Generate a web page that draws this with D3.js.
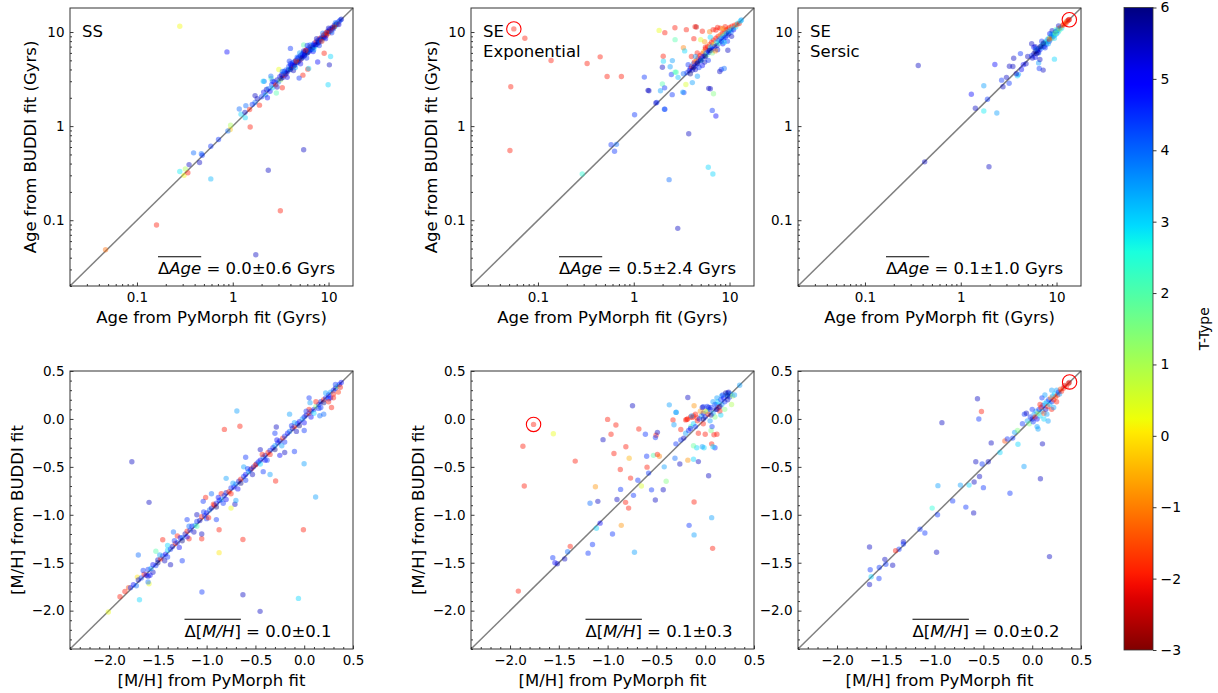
<!DOCTYPE html>
<html>
<head>
<meta charset="utf-8">
<script src="https://cdn.jsdelivr.net/npm/d3@7"></script>
<style>
body { margin: 0; background: #fff; }
text { font-family: "DejaVu Sans", sans-serif; fill: #000; }
</style>
</head>
<body>
<svg id="chart" width="1218" height="693"></svg>
<script>

// ---- data: [PyMorph value, BUDDI value, T-Type] ----
var ssAge = [
    [0.28,11.5,0.2],[0.87,6.15,5],[1.52,0.98,-2],[5.5,0.56,5.5],[2.35,0.34,5.5],[3.14,0.126,-2],[1.74,0.043,5.5],
    [0.16,0.089,-2],[0.047,0.0486,-1.2],[0.59,0.275,3.3],[0.28,0.33,2.8],[0.31,0.30,0.2],[0.34,0.32,-2],[0.35,0.39,5.5],
    [0.32,0.35,1],[0.39,0.52,4],[0.45,0.41,5.5],[0.47,0.51,4],[0.48,0.49,4.5],[0.59,0.61,4.5],[0.71,0.72,4.5],
    [0.94,0.92,-0.3],[0.95,1.02,1],[0.89,0.89,4],[1.17,1.52,4],[1.22,1.34,3],[1.37,1.65,4],[1.35,1.23,3],[1.5,1.5,-2],
    [1.71,1.78,4],[1.9,1.67,-2],[1.8,1.96,5.5],[1.34,1.4,5.5],[1.6,1.7,4.5],[4.0,6.7,4.5],[9.0,5.95,-2],[10.5,5.5,3],
    [10.2,4.48,5.5],[7.7,4.8,5],[9.9,2.75,3],[6.07,4.03,-2],[5.4,3.48,-2],[4.93,3.24,4.5],[6.2,4.1,3],[2.13,2.99,4],
    [2.52,3.21,2],[3.03,4.0,0.3],[2.85,2.25,2],[3.29,2.56,-2],[5.5,7.3,2],[1.71,2.11,5.5],[2.5,3.4,4],[2.08,3.0,3],[3.27,3.45,-2],
    [2.0,2.05,4.5],[2.1,2.3,5],[2.2,2.15,3.5],[2.25,2.45,5.5],[2.35,2.5,4],[2.45,2.35,5],[2.55,2.75,4.5],[2.6,2.55,3],
    [2.7,2.95,5],[2.8,2.75,-2],[2.9,3.1,5.5],[3.0,2.95,4],[3.1,3.35,5],[3.15,3.1,1.2],[3.25,3.55,4.5],[3.35,3.3,5.5],
    [3.45,3.8,5],[3.5,3.5,-2],[3.6,3.95,4],[3.7,3.75,5],[3.8,3.95,5.5],[3.85,4.3,4.5],[3.95,4.05,3],[4.05,4.45,5],
    [4.1,4.2,5.5],[4.2,4.7,5],[4.3,4.35,-2],[4.4,4.85,4],[4.45,4.5,5],[4.55,5.0,5.5],[4.65,4.75,4.5],[4.75,5.25,5],
    [4.8,4.85,3],[4.9,5.4,5],[5.0,5.0,-2],[5.1,5.6,5.5],[5.2,5.3,4],[5.3,5.85,5],[5.4,5.45,5.5],[5.5,6.05,4.5],
    [5.6,5.6,5],[5.75,6.3,-2],[5.85,5.9,3.5],[5.95,6.5,5],[6.1,6.1,5.5],[6.2,6.75,4.5],[6.35,6.3,5],[6.5,7.0,-2],
    [6.6,6.55,5],[6.75,7.25,4],[6.9,6.8,5.5],[7.1,7.6,5],[7.2,7.0,3],[7.4,7.85,-2],[7.55,7.4,5],[7.75,8.2,4.5],
    [7.9,7.7,5.5],[8.1,8.55,-2],[8.3,8.0,3.5],[8.5,8.8,5],[8.7,8.5,2],[8.9,9.3,-2],[9.1,8.8,5],[9.3,9.7,4],[9.5,9.2,-2],
    [9.8,10.2,5.5],[10.0,9.7,-1.5],[10.3,10.7,5],[10.6,10.2,3],[10.9,11.2,5],[11.2,10.8,4.5],[11.5,11.8,5.5],[11.8,11.5,3],
    [12.2,12.4,5],[12.5,12.3,2.5],[12.9,13.0,5],[13.3,13.4,4],[13.6,13.7,5.5],[3.2,3.2,5.8],[3.6,3.6,5.8],[4.0,4.0,5.8],
    [4.4,4.4,5.8],[4.8,4.8,5.8],[5.2,5.2,5.8],[5.6,5.7,5.8],[6.0,6.0,5.8],[6.4,6.5,5.8],[6.8,6.9,5.8],[7.3,7.3,5.8],
    [7.8,7.8,5.8],[8.3,8.4,5.8],[8.8,8.8,5.8],[9.4,9.4,5.8],[10.1,10.1,5.8],[11,11,5.8],[12,12,5.8],[4.2,4.5,4.8],
    [5.4,5.8,4.8],[3.4,3.6,4.2],[6.2,6.4,3.8],[7.0,7.3,4.8],[8.0,8.1,4.4],[9.0,9.3,-2],[10.5,10.4,-2],[5.8,6.4,-2],
    [4.6,4.9,-2],[11.5,11.4,-2.5],[12.5,12.1,-1],
    [2.3,2.0,5],[2.6,3.0,4.5],[2.9,2.6,5.5],[3.3,3.8,4],[3.7,3.3,5],[4.0,4.6,4.5],[4.3,3.9,5.5],[4.7,5.4,4],
    [5.1,4.6,5],[5.5,6.3,5.5],[5.9,5.3,4.5],[6.4,7.3,4],[6.9,6.2,5],[7.5,8.5,5.5],[8.0,7.2,4.5],[8.7,9.7,4],
    [9.3,8.5,5],[10.0,11.0,5.5],[10.8,9.8,4.5],[11.8,12.6,4],[12.8,12.0,5],[3.9,4.9,4.5],[5.0,6.0,3.5],[6.0,7.2,4.5],
    [4.5,4.2,3.5],[7.0,6.5,3.5],[8.5,8.0,-2],[9.5,9.9,-2]
];
var seExpAge = [
    [0.056,10.8,-2],[0.073,8.6,-2],[0.137,4.98,-2],[0.326,4.63,-2],[0.446,5.45,-2],[0.527,3.37,-2],[0.743,3.37,-2],
    [0.052,2.62,-2],[0.051,0.55,-2],[0.29,0.31,2.5],[1.02,1.32,4.5],[0.58,0.635,4.5],[0.63,0.54,4.5],[0.66,0.64,4],
    [1.29,3.32,4.5],[1.41,2.4,5.5],[1.74,1.79,4.5],[2.09,1.51,4],[3.75,0.83,5.5],[6.3,2.5,5.5],[6.6,1.47,4.5],
    [7.2,1.28,5],[6.0,0.366,3],[6.7,0.31,3],[2.34,0.27,4],[2.88,0.082,5.5],[1.84,10.4,0.3],[2.11,9.85,-2],
    [2.69,11.1,-2],[3.54,10.6,-2],[4.37,11.4,-2],[4.5,11.3,-2.5],[5.2,10.2,-2],[6.2,10.07,-1],[6.75,10.6,-2],
    [2.7,8.3,2],[4.24,8.5,-2],[3.3,6.8,-1],[3.4,6.3,3],[2.03,5.53,-2],[2.04,4.9,3],[2.53,4.97,3.5],[1.99,4.23,5.5],
    [2.4,4.27,3.5],[2.47,3.54,4.5],[2.77,3.74,2],[1.44,2.38,5.5],[1.9,2.38,3.5],[1.99,2.8,2],[2.1,2.55,4.5],
    [2.52,2.16,4.5],[3.34,2.27,4.5],[4.09,2.9,3.5],[4.62,3.39,3.5],[2.11,1.51,4.5],[6.06,2.52,5.5],[6.8,2.21,1.5],
    [8.2,4.0,4.5],[8.8,4.1,4],[7.9,3.8,5.5],[9.6,6.4,5.5],[1.7,1.76,5.5],[2.9,3.3,3.2],[3.3,3.6,4],[3.5,2.77,0.5],
    [3.25,2.3,3.5],[2.7,3.75,2.2],
    [3.6,3.7,4.5],[3.8,3.9,5.5],[3.9,4.1,5],[4.0,4.3,-2],[4.1,3.95,5.5],[4.2,4.6,4],[4.3,4.8,-2],[4.35,4.35,5],
    [4.5,5.0,-1],[4.6,4.6,5.5],[4.7,5.3,-2],[4.8,4.9,4.5],[4.9,5.6,-2],[5.0,5.2,5],[5.1,5.0,3],[5.2,5.9,-2],
    [5.3,5.5,4.5],[5.4,6.2,-0.5],[5.5,5.6,5.5],[5.6,6.6,-2],[5.7,6.0,4],[5.8,5.7,2],[5.9,7.0,-2],[6.0,6.3,4.5],
    [6.1,6.1,5],[6.2,7.4,-1.5],[6.3,6.8,3],[6.4,6.4,5.5],[6.5,7.8,-2],[6.6,7.1,4],[6.7,6.6,5],[6.8,8.2,-2],
    [6.9,7.4,0],[7.0,7.0,4.5],[7.2,8.6,-2],[7.3,7.8,3],[7.4,7.2,5.5],[7.6,9.0,-2],[7.7,8.2,4],[7.8,7.6,2.5],
    [8.0,9.3,-1],[8.1,8.6,3.5],[8.2,8.0,5],[8.4,9.7,-2],[8.5,9.0,3],[8.6,8.5,4.5],[8.8,10.1,-2],[8.9,9.4,2],
    [9.0,8.8,5],[9.2,10.5,-2],[9.3,9.8,3],[9.4,9.2,4.5],[9.6,10.8,-1.5],[9.7,10.1,3.5],[9.8,9.6,5.5],[10.0,11.2,-2],
    [10.2,10.5,3],[10.4,10.0,4],[10.6,11.5,-2],[10.8,10.9,2.5],[11.0,10.6,5],[11.3,11.8,-2],[11.6,11.3,3],
    [11.9,12.0,-1.5],[12.2,12.4,3],[12.6,12.3,-2],[13.0,13.1,3],[13.3,13.4,3.5],[7.2,10.5,-2],[8.0,11.0,-2],
    [8.5,10.9,-0.5],[9.0,11.4,-2],[7.5,11.2,-2],[6.3,8.8,3],[5.5,7.9,-0.8],[5.0,8.3,0.5],[5.2,4.4,5],[5.5,4.8,5.5],
    [6.0,5.0,4.5],[4.4,4.0,5.5],[4.8,4.2,4.5],[7.5,6.5,5.5],[8.5,7.5,5],[9.5,8.0,4.5],[10.5,9.0,5.5],[4.0,5.5,-2],
    [4.6,6.0,-2],[5.6,6.9,-2],[3.9,3.6,6],[4.2,4.2,6],[4.6,4.7,6],[5.0,5.0,6],[5.6,5.5,6],[6.2,6.4,6],[3.7,4.5,4.5],
    [4.4,5.5,3.5],[6.6,6.0,1.5],[7.1,6.3,-1],[8.8,7.8,3]
];
var seSerAge = [
    [0.36,4.41,5.5],[0.42,0.417,5.5],[1.97,0.37,5.5],[1.29,2.18,5],[1.42,1.55,5.5],[1.74,1.45,2.8],[2.38,1.38,3.5],
    [1.74,2.69,3.5],[1.9,1.93,4.5],[2.27,4.52,5],[2.67,3.08,4.5],[2.76,2.62,5.5],[3.2,2.85,4.5],[3.22,4.33,5.5],
    [3.5,4.3,5.5],[3.57,5.27,5.5],[3.9,3.43,3],[4.0,3.55,3.5],[3.8,3.6,5.5],[4.2,5.9,4.5],[4.5,4.5,5],[4.8,4.6,5.5],
    [5.5,7.5,5.5],[7.25,3.94,5.5],[6.6,4.1,4.5],[6.5,4.7,3.5],[9.5,5.15,3],[6.7,5.1,5.5],[6.5,6.0,4],[5.0,5.5,5.5],
    [4.3,4.0,5],[3.0,3.3,5.5],[5.8,6.9,5],[6.0,5.4,5],
    [5.5,5.6,4.5],[5.8,5.9,5.5],[6.0,6.2,6],[6.2,5.9,6],[6.3,6.4,6],[6.5,6.7,6],[6.4,6.1,5.5],[6.7,6.5,5],
    [6.9,7.1,4],[7.0,6.8,3.5],[7.2,7.4,3],[7.4,7.0,5.5],[7.5,7.7,2.5],[7.7,7.9,3],[7.8,7.4,4],[8.0,8.3,3.5],
    [8.1,7.9,2],[8.3,8.6,3],[8.4,8.0,4.5],[8.6,8.8,1],[8.7,8.4,3],[8.9,9.1,3.5],[9.0,8.7,-1],[9.2,9.5,3],[9.3,9.0,4],
    [9.5,9.8,2.5],[9.6,9.3,3],[9.8,10.1,5.5],[10.0,9.6,3.5],[10.2,10.4,5],[10.4,10.0,3],[10.6,10.9,-1],[10.8,10.5,2],
    [11.0,11.2,-0.5],[11.3,11.0,3],[11.6,11.8,-1.5],[11.9,12.0,-2],[12.2,12.5,-1],[12.5,12.3,-2],[12.8,13.0,-1.5],
    [13.1,13.2,-2],[13.4,13.5,-2.5],[13.6,13.6,-2],[7.0,8.0,4.5],[6.0,7.0,5.5],[8.5,9.6,5],[9.0,10.3,5.5],
    [10.5,11.6,5.5],[8.2,7.5,3.5],[9.5,8.6,3],[7.6,6.8,4.5],[8.8,9.5,3.5],[9.9,10.6,2.5],[7.3,7.6,6],[6.8,7.0,6],
    [5.6,5.3,5.5],[6.1,6.6,4],[9.7,9.7,1.5],[8.4,8.4,-1.5]
];
var ssMH = [
    [-1.766,-0.447,5.5],[-1.59,-0.87,5.5],[-0.818,-0.109,-2],[-0.659,-0.077,-2],[-0.69,0.082,3.5],[-0.286,-0.084,5.5],
    [-0.001,-0.468,3.5],[-0.293,-0.648,-2],[0.117,-0.814,3.5],[-0.008,-1.156,-2],[-0.628,-1.257,-2],[-0.872,-1.156,-2],
    [-0.872,-1.395,0],[-0.628,-1.834,5.5],[-1.048,-1.806,4.5],[-0.452,-2.007,5.5],[-0.059,-1.872,3],[-1.688,-1.886,3],
    [-1.59,-1.72,0.3],[-2.007,-2.014,0.3],[-1.888,-1.855,-2],[-1.837,-1.80,-2],[-1.8,-1.76,-1.5],[-1.71,-1.65,0],
    [-1.7,-1.42,4],[-1.45,-1.26,-2],[-1.52,-1.38,2],[-1.37,-1.52,5.5],[-1.25,-1.48,4.5],[-1.34,-1.18,4],[-1.18,-1.25,-2],
    [-1.05,-1.25,-2],[-1.01,-0.82,-2],[-1.035,-0.86,4.5],[-0.93,-0.89,-2],[-0.75,-0.93,0.3],[-0.71,-0.89,5.5],
    [-0.62,-0.50,3.5],[-0.54,-0.52,-2],[-0.49,-0.47,5.5],[-0.35,-0.58,3.5],[-0.2,-0.35,5.5],[-0.1,-0.34,4.5],
    [0.28,0.12,-2],[0.16,0.033,4],[0.06,0.17,3.5],[0.35,0.28,-1.8],[-1.6,-1.7,4],[-1.55,-1.6,5.5],[-1.4,-1.32,3],
    [-1.3,-1.22,-2],[-1.2,-1.05,4.5],[-1.1,-1.0,5.5],[-0.95,-0.78,4],[-0.85,-0.78,-2],[-0.8,-0.62,3.5],[-0.6,-0.4,4.5],
    [-0.45,-0.32,5.5],[-0.3,-0.15,4.5],[-0.15,0.05,3.5],[0.05,0.22,4.5],[-0.42,-0.55,4.5],[-0.25,-0.38,5],[0.0,-0.12,4.5],
    [0.2,0.05,4],[-0.7,-0.85,3.5],[-0.9,-1.05,4.5],[-1.05,-1.2,5.5],
    [-1.78,-1.76,4.5],[-1.75,-1.73,5],[-1.72,-1.74,4],[-1.7,-1.68,5.5],[-1.67,-1.66,4.5],[-1.64,-1.62,-2],[-1.62,-1.63,5],
    [-1.6,-1.57,4.5],[-1.57,-1.56,3.5],[-1.55,-1.52,5],[-1.52,-1.53,4.5],[-1.5,-1.47,5.5],[-1.47,-1.46,-2],[-1.45,-1.43,4.5],
    [-1.42,-1.41,5],[-1.4,-1.37,3],[-1.37,-1.36,4.5],[-1.35,-1.33,5.5],[-1.32,-1.30,-2],[-1.3,-1.29,4.5],[-1.27,-1.24,5],
    [-1.25,-1.24,4],[-1.22,-1.2,5.5],[-1.2,-1.17,-2],[-1.17,-1.16,4.5],[-1.15,-1.12,5],[-1.12,-1.11,3.5],[-1.1,-1.07,4.5],
    [-1.07,-1.06,5.5],[-1.05,-1.02,-2],[-1.02,-1.01,4.5],[-1.0,-0.98,5],[-0.97,-0.95,4],[-0.95,-0.93,5.5],[-0.92,-0.9,-2],
    [-0.9,-0.88,4.5],[-0.87,-0.85,5],[-0.85,-0.84,3.5],[-0.82,-0.8,4.5],[-0.8,-0.77,5.5],[-0.77,-0.76,-2],[-0.75,-0.72,4.5],
    [-0.72,-0.71,5],[-0.7,-0.68,4],[-0.67,-0.65,5.5],[-0.65,-0.63,-2],[-0.62,-0.6,4.5],[-0.6,-0.58,5],[-0.57,-0.55,3.5],
    [-0.55,-0.53,4.5],[-0.52,-0.5,5.5],[-0.5,-0.48,-2],[-0.47,-0.45,4.5],[-0.45,-0.43,5],[-0.42,-0.4,4],[-0.4,-0.38,5.5],
    [-0.37,-0.35,-2],[-0.35,-0.33,4.5],[-0.32,-0.3,5],[-0.3,-0.28,3.5],[-0.27,-0.25,4.5],[-0.25,-0.23,5.5],[-0.22,-0.2,-2],
    [-0.2,-0.18,4.5],[-0.17,-0.15,5],[-0.15,-0.13,4],[-0.12,-0.1,5.5],[-0.1,-0.08,-2],[-0.07,-0.05,4.5],[-0.05,-0.03,5],
    [-0.02,0.0,3.5],[0.0,0.02,4.5],[0.02,0.04,5.5],[0.05,0.06,-2],[0.07,0.08,4.5],[0.1,0.1,5],[0.12,0.13,1.5],[0.15,0.15,4.5],
    [0.17,0.18,5.5],[0.2,0.2,-2],[0.22,0.22,4.5],[0.25,0.25,5],[0.27,0.28,3.5],[0.3,0.3,4.5],[0.32,0.32,5.5],[0.34,0.34,2],
    [0.36,0.36,4.5],[0.38,0.38,5],[-1.6,-1.64,5.5],[-1.4,-1.44,4.5],[-1.2,-1.23,5],[-1.0,-1.04,4.5],[-0.8,-0.84,5],
    [-0.6,-0.64,4.5],[-0.4,-0.43,5],[-0.2,-0.24,4.5],[0.0,-0.04,5],[0.15,0.11,4.5],[0.3,0.26,-2],[-1.5,-1.5,6],
    [-1.25,-1.27,6],[-0.9,-0.92,6],[-0.65,-0.67,6],[-0.3,-0.32,6],[-0.05,-0.07,6],[0.2,0.17,6],[-1.1,-1.12,2],
    [-0.45,-0.47,3],[0.1,0.06,3],[0.05,0.1,-2],[-0.1,-0.04,3.5],[0.25,0.21,4.5],[-0.35,-0.37,-2],[-0.75,-0.78,-2],
    [-1.65,-1.58,4.5],[-1.58,-1.63,5],[-1.48,-1.42,3.5],[-1.43,-1.48,5.5],[-1.33,-1.27,4.5],[-1.28,-1.34,5],
    [-1.18,-1.12,4],[-1.13,-1.18,5.5],[-1.03,-0.97,4.5],[-0.98,-1.03,-2],[-0.88,-0.82,5],[-0.83,-0.88,4.5],
    [-0.73,-0.67,3.5],[-0.68,-0.73,5],[-0.58,-0.52,4.5],[-0.53,-0.58,5.5],[-0.43,-0.37,-2],[-0.38,-0.43,4.5],
    [-0.28,-0.22,5],[-0.23,-0.28,3.5],[-0.13,-0.07,4.5],[-0.08,-0.13,5.5],[0.02,0.08,4.5],[0.07,0.02,5],
    [0.12,0.18,-2],[0.17,0.12,4.5],[0.22,0.27,3.5],[0.27,0.22,5],[0.32,0.36,4.5],[0.37,0.33,-2],[0.3,0.22,-2],[0.25,0.18,-2]
];
var seExpMH = [
    [-1.759,-0.057,-2],[-1.556,-0.154,0.3],[-1.868,-0.285,-2],[-1.854,-0.70,-2],[-1.332,-0.44,-2],[-1.915,-1.796,-2],
    [-1.383,-1.329,-2],[-1.562,-1.447,4.5],[-1.54,-1.5,5],[-1.515,-1.51,5.5],[-1.44,-1.46,5.5],[-1.41,-1.385,4],
    [-1.2,-1.4,4.5],[-1.155,-1.31,4.5],[-1.115,-1.14,3],[-1.077,-1.087,5],[-0.95,-1.2,4.5],[-1.18,-0.88,4],[-1.1,-0.86,5.5],
    [-1.047,-0.216,5.5],[-1.0,-0.005,-2],[-0.965,-0.16,-2],[-0.915,-0.064,-2],[-0.935,-0.36,-2],[-0.87,-0.527,-2],
    [-0.904,-0.84,5.5],[-0.867,-0.735,4.5],[-0.813,-0.29,-2],[-0.779,-0.41,-0.5],[-0.765,-0.617,-2],[-0.816,-0.87,-2],
    [-0.785,-0.93,-2],[-0.86,-1.11,-0.8],[-1.125,-0.707,-0.8],[-0.745,0.137,5.5],[-0.68,-0.105,-2],[-0.725,-1.39,3.5],
    [-0.735,-0.797,4.5],[-0.69,-0.64,4.5],[-0.654,-0.70,0.5],[-0.613,-0.16,4.5],[-0.6,-0.39,4.5],[-0.596,-0.503,-2],
    [-0.58,-0.565,4.5],[-0.55,-0.74,4.5],[-0.511,-0.846,5.5],[-0.504,-0.17,-2],[-0.51,-0.195,4.5],[-0.49,-0.14,5.5],
    [-0.53,-0.38,2],[-0.49,-0.37,-2],[-0.47,-0.39,-1],[-0.43,-0.738,5.5],[-0.42,-0.50,3.5],[-0.4,-0.65,1.5],
    [-0.368,0.147,3.5],[-0.33,-0.01,-2],[-0.297,0.07,3.5],[0.035,-0.593,5.5],[-0.114,-0.866,-2],[-0.165,-1.11,4.5],
    [-0.114,-1.21,3.5],[0.066,-1.03,3.5],[0.076,-1.35,-2],[-0.178,0.223,5.5],[-0.114,0.137,-0.8],[-0.178,-0.43,-0.8],
    [-0.12,-0.42,3],[-0.07,-0.445,5.5],[-0.012,-0.30,3],[0.1,-0.30,4.5],[0.066,-0.26,-2],[0.12,-0.16,-2],[-0.087,-0.3,3],
    [-0.26,-0.47,5.5],[-0.31,-0.41,4],[-0.25,-0.11,-2],[-0.19,-0.005,-2],[-0.13,0.016,-2],[-0.3,0.068,3.5],
    [-0.02,0.127,4.5],[0.035,0.12,5.5],[0.12,0.15,3.5],[0.167,0.24,3.5],[0.23,0.27,4.5],[0.353,0.352,3.5],[0.27,0.15,1],
    [-0.18,0.0,-2],[-0.15,0.02,-2],[-0.12,0.03,-2],[-0.08,0.01,-2],[-0.2,-0.01,-2],[-0.32,-0.06,3.5],[-0.148,-0.08,2],
    [-0.07,-0.15,-2],[0.0,-0.16,-2],[0.09,-0.165,-2],[0.06,-0.12,1.5],[-0.12,-0.28,1.8],[-0.03,-0.29,3.5],[0.08,-0.29,3],
    [-0.3,-0.26,4.5],
    [-0.25,-0.22,4.5],[-0.22,-0.2,5.5],[-0.2,-0.15,3.5],[-0.17,-0.12,4.5],[-0.15,-0.1,5],[-0.12,-0.05,3],[-0.1,-0.08,4.5],
    [-0.08,-0.02,-2],[-0.06,0.0,4.5],[-0.04,0.03,3.5],[-0.02,0.06,5.5],[0.0,0.02,4.5],[0.02,0.08,3],[0.03,0.05,-2],
    [0.05,0.1,5.5],[0.06,0.12,4.5],[0.08,0.06,3.5],[0.1,0.15,4.5],[0.11,0.1,5.5],[0.13,0.18,3],[0.14,0.12,-2],[0.16,0.2,4.5],
    [0.17,0.15,3.5],[0.19,0.22,5],[0.2,0.18,4.5],[0.22,0.25,3],[0.23,0.2,5.5],[0.25,0.23,4.5],[0.26,0.26,3.5],[0.28,0.24,1],
    [0.3,0.25,3.5],[-0.02,-0.05,-2],[0.05,-0.02,3.5],[0.0,0.08,0],[-0.05,0.08,-0.8],[0.1,0.02,1.5],[0.15,0.08,-2],
    [0.12,0.22,3.5],[0.18,0.25,4.5],[0.24,0.28,5.5],[-0.1,0.05,-2],[-0.14,0.03,3.5],[0.08,0.18,3.5],[0.02,0.13,4.5],
    [-0.03,0.12,5.5],[0.07,-0.08,4.5],[0.16,0.04,3],[0.2,0.1,1.5],[0.21,0.27,5.8],[0.23,0.24,5.8],[0.12,0.1,5.8],
    [0.06,0.04,5.8],[-0.02,0.0,5.8],[0.15,0.13,5.8]
];
var seSerMH = [
    [-0.561,0.21,5.5],[-0.547,-0.001,4.5],[-0.52,0.078,-2],[-0.925,-0.039,5.5],[-0.42,-0.25,5.5],[-0.578,-0.447,5.5],
    [-0.513,-0.47,4.5],[-0.45,-0.447,5.5],[-0.54,-0.6,5.5],[-0.595,-0.658,5.5],[-0.5,-0.717,4.5],[-0.647,-0.69,3],
    [-0.736,-0.69,3.5],[-0.966,-0.696,3.5],[-0.228,-0.776,4.5],[-0.815,-0.855,4.5],[-0.68,-0.92,4.5],[-0.6,-0.98,5.5],
    [-1.025,-0.93,2.5],[-0.97,-1.0,4.5],[-1.15,-1.15,4.5],[-1.1,-1.19,4.5],[-0.98,-1.39,5.5],[-1.32,-1.28,5.5],
    [-1.32,-1.305,4.5],[-1.365,-1.36,4.5],[-1.4,-1.374,-2],[-1.43,-1.526,5.5],[-1.5,-1.516,4.5],[-1.51,-1.465,5.5],
    [-1.567,-1.55,4.5],[-1.57,-1.664,4.5],[-1.66,-1.574,4.5],[-1.65,-1.646,3],[-1.667,-1.727,5.5],[-1.667,-1.336,5.5],
    [-0.084,-0.496,3.5],[0.084,-0.624,5.5],[0.105,-0.26,5.5],[0.177,-1.436,5.5],[-0.146,-0.264,3],[0.163,-0.022,3.5],
    [0.06,-0.105,3.5],[-0.28,-0.23,-1.5],[-0.255,-0.21,4.5],[-0.33,-0.35,3],[-0.2,-0.2,4.5],[-0.18,-0.14,3.5],
    [-0.15,-0.12,1.5],[-0.1,-0.05,4.5],[-0.08,0.05,4.5],
    [-0.05,-0.02,3.5],[-0.03,-0.05,1.5],[-0.02,0.02,4.5],[0.0,0.0,5.5],[0.01,-0.03,4.5],[0.02,0.05,3.5],[0.03,0.02,-2],
    [0.04,0.08,3.5],[0.05,0.0,5],[0.06,0.06,1],[0.07,0.1,4.5],[0.08,0.03,3],[0.09,0.12,-2],[0.1,0.08,3.5],[0.11,0.14,4.5],
    [0.12,0.06,-1.5],[0.13,0.16,3],[0.14,0.1,5.5],[0.15,0.18,3.5],[0.16,0.13,-2],[0.17,0.2,4.5],[0.18,0.15,3],[0.19,0.22,-1],
    [0.2,0.18,4.5],[0.21,0.24,3.5],[0.22,0.2,-2],[0.23,0.26,3],[0.24,0.23,-1.5],[0.25,0.3,3.5],[0.26,0.25,-2],[0.27,0.28,4.5],
    [0.28,0.26,3.5],[0.29,0.31,-1.5],[0.3,0.29,-2],[0.32,0.32,-2],[0.33,0.35,-2.5],[0.35,0.34,-2],[0.37,0.37,-2],
    [0.38,0.38,-2.5],[0.1,0.22,4.5],[0.13,0.25,3.5],[0.2,0.3,3.5],[0.0,0.1,4.5],[-0.06,0.06,5.5],[0.08,0.15,-2],
    [0.15,0.05,3.5],[0.2,0.1,-2],[0.12,0.0,3],[0.05,-0.08,3.5],[0.22,0.12,3.5],[0.25,0.18,-2]
];

// highlighted galaxy in the single-component fits
var seExpAgeMark = [0.056, 10.8];
var seSerAgeMark = [13.6, 13.5];
var seExpMHMark = [-1.759, -0.057];
var seSerMHMark = [0.383, 0.386];

var ageStats = ['0.0±0.6 Gyrs', '0.5±2.4 Gyrs', '0.1±1.0 Gyrs'];
var mhStats = ['0.0±0.1', '0.1±0.3', '0.0±0.2'];

var ageDomain = [0.02, 18];
var mhDomain = [-2.4, 0.5];
var ageMajor = [0.1, 1, 10];
var mhMajor = [-2.0, -1.5, -1.0, -0.5, 0.0, 0.5];
var cbTicks = [-3, -2, -1, 0, 1, 2, 3, 4, 5, 6];

var ageMinor = [];
[0.01, 0.1, 1].forEach(function (dec) {
    for (var m = 2; m <= 9; m++) {
        var v = +(dec * m).toPrecision(3);
        if (v >= ageDomain[0] && v <= ageDomain[1]) ageMinor.push(v);
    }
});
var mhMinor = d3.range(-24, 6).map(function (i) { return i / 10; })
    .filter(function (v) { return Math.abs(v * 2 - Math.round(v * 2)) > 1e-6; });

// ---- layout ----
var colLeft = [70, 471, 798];
var rowTop = [8, 371];
var pw = 283, ph = 278;
var fontTick = 13.5, fontLabel = 16.5;

var svg = d3.select('#chart');

// matplotlib jet
var jr = d3.scaleLinear().domain([0, 0.35, 0.66, 0.89, 1]).range([0, 0, 1, 1, 0.5]).clamp(true);
var jg = d3.scaleLinear().domain([0, 0.125, 0.375, 0.64, 0.91, 1]).range([0, 0, 1, 1, 0, 0]).clamp(true);
var jb = d3.scaleLinear().domain([0, 0.11, 0.34, 0.65, 1]).range([0.5, 1, 1, 0, 0]).clamp(true);
function jet(v) {
    return d3.rgb(jr(v) * 255, jg(v) * 255, jb(v) * 255).toString();
}
// reversed: T-Type 6 -> dark blue, -3 -> dark red
var tNorm = d3.scaleLinear().domain([-3, 6]).range([1, 0]);
function tColor(t) { return jet(tNorm(t)); }

var panels = [
    { col: 0, row: 0, data: ssAge, log: true, text: ['SS'], ylab: true, stat: ageStats[0], mark: null },
    { col: 1, row: 0, data: seExpAge, log: true, text: ['SE', 'Exponential'], ylab: true, stat: ageStats[1], mark: seExpAgeMark },
    { col: 2, row: 0, data: seSerAge, log: true, text: ['SE', 'Sersic'], ylab: false, stat: ageStats[2], mark: seSerAgeMark },
    { col: 0, row: 1, data: ssMH, log: false, text: [], ylab: true, stat: mhStats[0], mark: null },
    { col: 1, row: 1, data: seExpMH, log: false, text: [], ylab: true, stat: mhStats[1], mark: seExpMHMark },
    { col: 2, row: 1, data: seSerMH, log: false, text: [], ylab: false, stat: mhStats[2], mark: seSerMHMark }
];

function styleAxis(sel) {
    sel.select('.domain').remove();
    sel.attr('font-size', fontTick).attr('font-family', '"DejaVu Sans", sans-serif');
    sel.selectAll('line').attr('stroke', '#222').attr('stroke-width', 0.9);
}

function drawPanel(p) {
    var x0 = colLeft[p.col], y0 = rowTop[p.row];
    var g = svg.append('g').attr('transform', 'translate(' + x0 + ',' + y0 + ')');
    var dom = p.log ? ageDomain : mhDomain;
    var xs = (p.log ? d3.scaleLog() : d3.scaleLinear()).domain(dom).range([0, pw]);
    var ys = (p.log ? d3.scaleLog() : d3.scaleLinear()).domain(dom).range([ph, 0]);
    var major = p.log ? ageMajor : mhMajor;
    var minor = p.log ? ageMinor : mhMinor;
    var fmt = p.log ? d3.format('~g') : d3.format('.1f');

    // one-to-one line
    g.append('line')
        .attr('x1', xs(dom[0])).attr('y1', ys(dom[0]))
        .attr('x2', xs(dom[1])).attr('y2', ys(dom[1]))
        .attr('stroke', '#808080').attr('stroke-width', 1.5);

    g.append('g').selectAll('circle')
        .data(p.data)
        .join('circle')
        .attr('cx', function (d) { return xs(d[0]); })
        .attr('cy', function (d) { return ys(d[1]); })
        .attr('r', 2.7)
        .attr('fill', function (d) { return tColor(d[2]); })
        .attr('fill-opacity', 0.42);

    if (p.mark) {
        g.append('circle')
            .attr('cx', xs(p.mark[0])).attr('cy', ys(p.mark[1]))
            .attr('r', 7.2)
            .attr('fill', 'none').attr('stroke', '#ff0000').attr('stroke-width', 1.1);
    }

    // axes, ticks pointing inwards
    var gx = g.append('g').attr('transform', 'translate(0,' + ph + ')')
        .call(d3.axisBottom(xs).tickValues(major).tickFormat(fmt).tickSize(-3.5).tickPadding(6.5));
    styleAxis(gx);
    var gxm = g.append('g').attr('transform', 'translate(0,' + ph + ')')
        .call(d3.axisBottom(xs).tickValues(minor).tickFormat('').tickSize(-2));
    styleAxis(gxm);
    var gy = g.append('g')
        .call(d3.axisLeft(ys).tickValues(major).tickFormat(fmt).tickSize(-3.5).tickPadding(5.5));
    styleAxis(gy);
    var gym = g.append('g')
        .call(d3.axisLeft(ys).tickValues(minor).tickFormat('').tickSize(-2));
    styleAxis(gym);

    g.append('rect')
        .attr('width', pw).attr('height', ph)
        .attr('fill', 'none').attr('stroke', '#333').attr('stroke-width', 1);

    // axis titles
    var what = p.log ? 'Age' : '[M/H]';
    var unit = p.log ? ' (Gyrs)' : '';
    g.append('text')
        .attr('x', pw / 2).attr('y', ph + 37)
        .attr('text-anchor', 'middle')
        .attr('font-size', fontLabel)
        .text(what + ' from PyMorph fit' + unit);
    if (p.ylab) {
        var off = p.log ? 40 : 53;
        g.append('text')
            .attr('transform', 'translate(' + (-off) + ',' + (ph / 2) + ') rotate(-90)')
            .attr('text-anchor', 'middle')
            .attr('dominant-baseline', 'central')
            .attr('font-size', fontLabel)
            .text(what + ' from BUDDI fit' + unit);
    }

    // panel name
    p.text.forEach(function (s, i) {
        g.append('text')
            .attr('x', 12).attr('y', 29 + i * 20)
            .attr('font-size', fontLabel)
            .text(s);
    });

    // mean offset with overline
    var xr = pw - (p.log ? 18 : 21.5);
    var yb = ph - 12.5;
    var rest = g.append('text')
        .attr('x', xr).attr('y', yb)
        .attr('text-anchor', 'end')
        .attr('font-size', fontLabel)
        .text('\u00a0=\u00a0' + p.stat);
    var w = rest.node().getComputedTextLength();
    var math = g.append('text')
        .attr('x', xr - w).attr('y', yb)
        .attr('text-anchor', 'end')
        .attr('font-size', fontLabel);
    var parts = p.log ? [['Δ', false], ['Age', true]] : [['Δ[', false], ['M/H', true], [']', false]];
    parts.forEach(function (s) {
        math.append('tspan').style('font-style', s[1] ? 'italic' : 'normal').text(s[0]);
    });
    var bb = math.node().getBBox();
    var oy = yb - (p.log ? 16.8 : 17.2);
    g.append('line')
        .attr('x1', bb.x).attr('x2', bb.x + bb.width)
        .attr('y1', oy).attr('y2', oy)
        .attr('stroke', '#000').attr('stroke-width', 1.1);
}

panels.forEach(drawPanel);

// ---- colorbar ----
var cbX = 1124, cbW = 29, cbTop = 7.5, cbBottom = 650;
var defs = svg.append('defs');
var grad = defs.append('linearGradient')
    .attr('id', 'cbgrad')
    .attr('x1', 0).attr('y1', 0).attr('x2', 0).attr('y2', 1);
d3.range(0, 1.0001, 0.02).forEach(function (v) {
    grad.append('stop').attr('offset', v).attr('stop-color', jet(v));
});
svg.append('rect')
    .attr('x', cbX).attr('y', cbTop)
    .attr('width', cbW).attr('height', cbBottom - cbTop)
    .attr('fill', 'url(#cbgrad)')
    .attr('stroke', '#333').attr('stroke-width', 0.8);

var cbScale = d3.scaleLinear().domain([-3, 6]).range([cbBottom, cbTop]);
var gcb = svg.append('g')
    .attr('transform', 'translate(' + (cbX + cbW) + ',0)')
    .call(d3.axisRight(cbScale).tickValues(cbTicks).tickFormat(d3.format('d')).tickSize(3.5).tickPadding(4));
styleAxis(gcb);
gcb.attr('font-size', 14);

svg.append('text')
    .attr('transform', 'translate(1204,' + ((cbTop + cbBottom) / 2) + ') rotate(-90)')
    .attr('text-anchor', 'middle')
    .attr('dominant-baseline', 'central')
    .attr('font-size', 14)
    .text('T-Type');
</script>
</body>
</html>
